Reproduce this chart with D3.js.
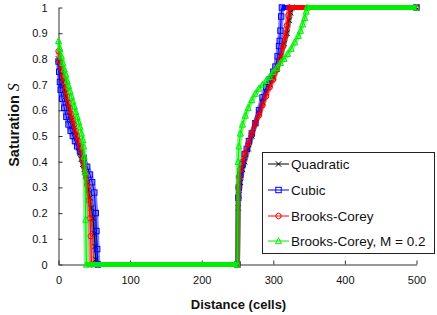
<!DOCTYPE html>
<html>
<head>
<meta charset="utf-8">
<script src="https://cdn.jsdelivr.net/npm/d3@7"></script>
<style>
  body { margin: 0; background: #fff; }
  svg { display: block; font-family: "Liberation Sans", Arial, sans-serif; }
</style>
</head>
<body>
<svg id="chart" width="437" height="315"></svg>
<script>
// series names (legend order)
const seriesNames = ["Quadratic", "Cubic", "Brooks-Corey", "Brooks-Corey, M = 0.2"];

// [distance (cells), saturation]
const quadratic = [
  [0,0.80],[2,0.77],[4,0.74],[6,0.71],[8,0.68],[10,0.655],[12,0.63],[14,0.605],[16,0.58],[18,0.56],
  [20,0.54],[22,0.52],[24,0.50],[26,0.48],[28,0.455],[30,0.435],[32,0.41],[34,0.39],[36,0.37],[38,0.345],
  [40,0.32],[42,0.29],[44,0.26],[46,0.22],[48,0.18],[50,0.12],[51,0.07],[52,0.02],[53,0],[250,0],
  [251,0.22],[252,0.27],[254,0.32],[257,0.37],[260,0.40],[265,0.45],[270,0.50],[275,0.55],[280,0.59],
  [285,0.63],[290,0.67],[295,0.70],[300,0.73],[305,0.76],[310,0.81],[315,0.86],[319,0.90],[322,0.95],
  [324,0.98],[326,1],[500,1]
];
const cubic = [
  [0,0.79],[1,0.75],[2,0.71],[3,0.68],[5,0.645],[8,0.61],[11,0.575],[14,0.545],[17,0.52],[20,0.50],
  [23,0.48],[26,0.46],[30,0.44],[35,0.415],[40,0.38],[44,0.35],[47,0.32],[50,0.28],[52,0.20],[53,0.13],
  [54,0.06],[55,0],[250,0],
  [251,0.26],[252,0.30],[254,0.35],[257,0.39],[260,0.43],[263,0.45],[266,0.48],[270,0.51],[275,0.55],
  [280,0.60],[285,0.65],[290,0.69],[295,0.72],[300,0.75],[303,0.77],[306,0.81],[308,0.85],[309,0.87],
  [310,0.91],[311,0.965],[312,1],[500,1]
];
const brooksCorey = [
  [0,0.83],[2,0.79],[4,0.76],[6,0.73],[8,0.71],[10,0.68],[12,0.655],[14,0.63],[16,0.61],[18,0.585],
  [20,0.565],[22,0.545],[24,0.52],[26,0.50],[28,0.48],[30,0.46],[32,0.44],[34,0.41],[36,0.38],[38,0.35],
  [40,0.31],[42,0.25],[44,0.18],[45,0.11],[46,0],[250,0],
  [251,0.30],[252,0.34],[254,0.37],[257,0.40],[260,0.43],[265,0.47],[270,0.51],[275,0.55],[280,0.58],
  [285,0.62],[290,0.655],[295,0.69],[300,0.72],[305,0.76],[310,0.80],[314,0.85],[317,0.89],[319,0.93],
  [321,0.97],[322,1],[500,1]
];
const brooksCoreyM = [
  [0,0.87],[2,0.84],[4,0.81],[6,0.785],[8,0.76],[10,0.74],[12,0.715],[14,0.695],[16,0.675],[18,0.655],
  [20,0.635],[22,0.615],[24,0.595],[26,0.575],[28,0.555],[30,0.535],[32,0.51],[34,0.485],[35,0.46],
  [36,0.42],[37,0.36],[38,0.175],[39,0],[250,0],
  [251,0.40],[252,0.46],[254,0.51],[257,0.545],[261,0.58],[265,0.61],[270,0.64],[275,0.665],[280,0.685],
  [285,0.70],[290,0.715],[295,0.73],[300,0.75],[305,0.765],[310,0.785],[315,0.80],[320,0.82],[325,0.84],
  [330,0.865],[335,0.89],[338,0.91],[341,0.935],[344,0.96],[346,0.985],[347,1],[500,1]
];

const xTicks = [0, 100, 200, 300, 400, 500];
const yTicks = [0, 0.1, 0.2, 0.3, 0.4, 0.5, 0.6, 0.7, 0.8, 0.9, 1];

const seriesData = [quadratic, cubic, brooksCorey, brooksCoreyM];
const colors = ["#000000", "#0000ff", "#ff0000", "#00ee00"];
const markers = ["cross", "square", "circle", "triangle"];

const svg = d3.select("#chart");

const x = d3.scaleLinear().domain([0, 500]).range([58.5, 416.5]);
const y = d3.scaleLinear().domain([0, 1]).range([264.5, 7.5]);

// axes (ticks point inward)
const xAxis = svg.append("g")
  .attr("transform", "translate(0," + y(0) + ")")
  .call(d3.axisBottom(x).tickValues(xTicks).tickSizeInner(-4).tickSizeOuter(0).tickPadding(12));
const yAxis = svg.append("g")
  .attr("transform", "translate(" + x(0) + ",0)")
  .call(d3.axisLeft(y).tickValues(yTicks).tickSizeInner(-4).tickSizeOuter(0).tickPadding(11)
    .tickFormat(d => d3.format("~g")(d)));
[xAxis, yAxis].forEach(g => {
  g.selectAll("path, line").attr("stroke", "#333");
  g.selectAll("text").attr("font-size", 11).attr("fill", "#111")
    .attr("font-family", "'Liberation Sans', Arial, sans-serif");
});

function drawMarker(g, type, cx, cy, color) {
  const s = 2.7;
  if (type === "square") {
    g.append("rect").attr("x", cx - s).attr("y", cy - s).attr("width", 2 * s).attr("height", 2 * s)
      .attr("fill", "none").attr("stroke", color);
  } else if (type === "circle") {
    g.append("circle").attr("cx", cx).attr("cy", cy).attr("r", s)
      .attr("fill", "none").attr("stroke", color);
  } else if (type === "triangle") {
    g.append("path").attr("d", `M${cx},${cy - s - 0.5}L${cx + s + 0.3},${cy + s}L${cx - s - 0.3},${cy + s}Z`)
      .attr("fill", "none").attr("stroke", color);
  } else {
    g.append("path").attr("d", `M${cx - s},${cy - s}L${cx + s},${cy + s}M${cx - s},${cy + s}L${cx + s},${cy - s}`)
      .attr("fill", "none").attr("stroke", color);
  }
}

const line = d3.line().x(d => x(d[0])).y(d => y(d[1]));

seriesData.forEach((data, i) => {
  const g = svg.append("g");
  const c = colors[i];
  // the dense per-cell markers read as a band along the slopes
  g.append("path").attr("d", line(data)).attr("fill", "none")
    .attr("stroke", c).attr("stroke-width", 5).attr("stroke-opacity", 0.5);
  // flat stretches: markers merge into a solid band
  for (let k = 1; k < data.length; k++) {
    if (data[k][1] === data[k - 1][1]) {
      g.append("path").attr("d", line([data[k - 1], data[k]])).attr("fill", "none")
        .attr("stroke", c).attr("stroke-width", 5);
    }
  }
  g.append("path").attr("d", line(data)).attr("fill", "none").attr("stroke", c).attr("stroke-width", 1);
  data.forEach(d => drawMarker(g, markers[i], x(d[0]), y(d[1]), c));
});

// axis titles
svg.append("text").attr("x", 238.5).attr("y", 309).attr("text-anchor", "middle")
  .attr("font-size", 13).attr("font-weight", "bold").attr("fill", "#111").text("Distance (cells)");
const yl = svg.append("text").attr("transform", "translate(19,125) rotate(-90)")
  .attr("text-anchor", "middle").attr("fill", "#111");
yl.append("tspan").attr("font-size", 14.5).attr("font-weight", "bold").text("Saturation ");
yl.append("tspan").attr("font-family", "'Liberation Serif', 'DejaVu Serif', serif")
  .attr("font-style", "italic").attr("font-size", 16).text("S");

// legend
const lg = svg.append("g");
lg.append("rect").attr("x", 262.5).attr("y", 152.5).attr("width", 172).attr("height", 101)
  .attr("fill", "#fff").attr("stroke", "#222");
const rowY = [164, 190, 216, 241];
seriesNames.forEach((name, i) => {
  const ry = rowY[i];
  lg.append("line").attr("x1", 268).attr("x2", 289).attr("y1", ry).attr("y2", ry)
    .attr("stroke", colors[i]).attr("stroke-width", 1);
  drawMarker(lg, markers[i], 278.5, ry, colors[i]);
  lg.append("text").attr("x", 291).attr("y", ry + 4.5).attr("font-size", 13.5).attr("fill", "#111").text(name);
});
</script>
</body>
</html>
